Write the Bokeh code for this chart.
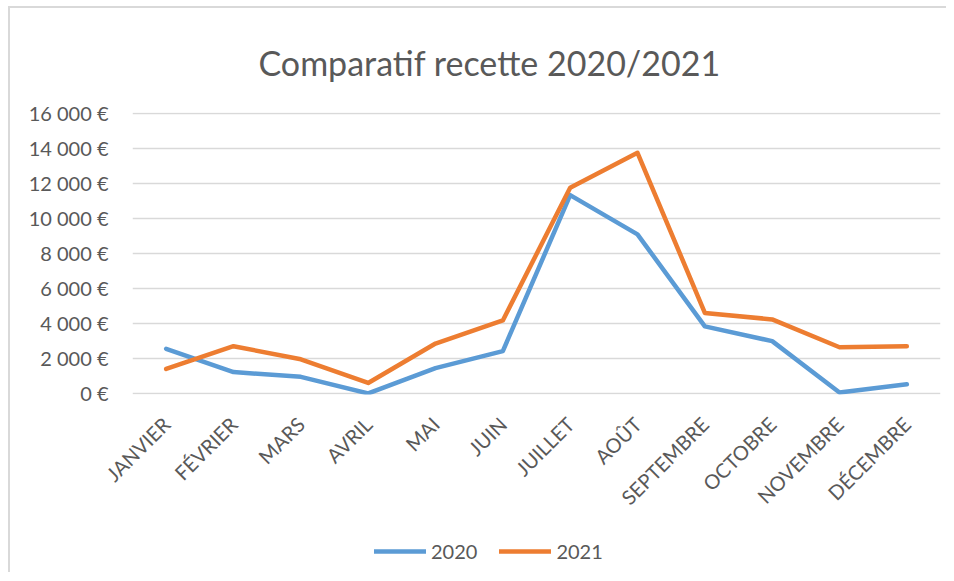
import math
from bokeh.plotting import figure
from bokeh.layouts import column
from bokeh.models import Range1d, FactorRange, FixedTicker, Legend, LegendItem
from bokeh.embed import file_html
from bokeh.resources import INLINE

months = ["JANVIER", "FÉVRIER", "MARS", "AVRIL", "MAI", "JUIN", "JUILLET",
          "AOÛT", "SEPTEMBRE", "OCTOBRE", "NOVEMBRE", "DÉCEMBRE"]
recette_2020 = [2550, 1220, 950, 0, 1450, 2420, 11330, 9090, 3830, 2990, 50, 520]
recette_2021 = [1400, 2700, 1950, 600, 2850, 4170, 11750, 13750, 4600, 4230, 2640, 2700]
series_names = ["2020", "2021"]
y_ticks = [0, 2000, 4000, 6000, 8000, 10000, 12000, 14000, 16000]
y_tick_labels = ["0 €", "2 000 €", "4 000 €", "6 000 €", "8 000 €",
                 "10 000 €", "12 000 €", "14 000 €", "16 000 €"]

TXT = "#595959"
GRID = "#d9d9d9"
FONT = "Lato"
C2020 = "#5b9bd5"
C2021 = "#ed7d31"

p = figure(frame_width=808, frame_height=282, x_range=FactorRange(*months),
           y_range=Range1d(-60, 16050), output_backend="svg",
           toolbar_location=None, title="Comparatif recette 2020/2021",
           min_border_left=122, min_border_right=6, min_border_top=104,
           min_border_bottom=138)

p.title.text_font = FONT
p.title.text_font_size = "34px"
p.title.text_font_style = "normal"
p.title.text_color = TXT
p.title.align = "left"
p.title.offset = 126
p.title.standoff = 60

p.outline_line_color = None
p.xgrid.grid_line_color = None
p.ygrid.grid_line_color = GRID
p.ygrid.grid_line_width = 1.5
p.ygrid.ticker = FixedTicker(ticks=y_ticks)

p.yaxis.ticker = FixedTicker(ticks=y_ticks)
p.yaxis.major_label_overrides = {t: l for t, l in zip(y_ticks, y_tick_labels)}
p.yaxis.axis_line_color = None
p.yaxis.major_tick_line_color = None
p.yaxis.minor_tick_line_color = None
p.yaxis.major_label_standoff = 18
p.yaxis.major_label_text_font = FONT
p.yaxis.major_label_text_font_size = "20px"
p.yaxis.major_label_text_color = TXT

p.xaxis.axis_line_color = None
p.xaxis.major_tick_line_color = None
p.xaxis.major_label_orientation = math.pi / 4
p.xaxis.major_label_standoff = 20
p.xaxis.major_label_text_font = FONT
p.xaxis.major_label_text_font_size = "20px"
p.xaxis.major_label_text_color = TXT

p.line(months, recette_2020, line_color=C2020, line_width=4.5,
       line_cap="round", line_join="round")
p.line(months, recette_2021, line_color=C2021, line_width=4.5,
       line_cap="round", line_join="round")

# legend strip below the chart (its own lines lie outside its y range)
lg = figure(width=936, height=40, x_range=FactorRange(*months),
            y_range=Range1d(-2, -1), output_backend="svg",
            toolbar_location=None, x_axis_type=None, y_axis_type=None,
            min_border=0, min_border_left=0, min_border_right=0,
            min_border_top=0, min_border_bottom=0)
lg.outline_line_color = None
lg.grid.visible = False
l1 = lg.line(months, recette_2020, line_color=C2020, line_width=4.5, line_cap="round")
l2 = lg.line(months, recette_2021, line_color=C2021, line_width=4.5, line_cap="round")

legend = Legend(items=[LegendItem(label=series_names[0], renderers=[l1]),
                       LegendItem(label=series_names[1], renderers=[l2])],
                orientation="horizontal", location=(242, 9),
                border_line_color=None, background_fill_alpha=0,
                label_text_font=FONT, label_text_font_size="20px",
                label_text_color=TXT, glyph_width=52, glyph_height=20,
                label_standoff=5, spacing=22, padding=0, margin=0)
lg.add_layout(legend)

layout = column(p, lg, spacing=0,
                styles={"margin-left": "8px", "margin-top": "6px",
                        "border-left": "2px solid #d9d9d9",
                        "border-top": "2px solid #d9d9d9"})

open("out.html", "w").write(file_html(layout, INLINE))
